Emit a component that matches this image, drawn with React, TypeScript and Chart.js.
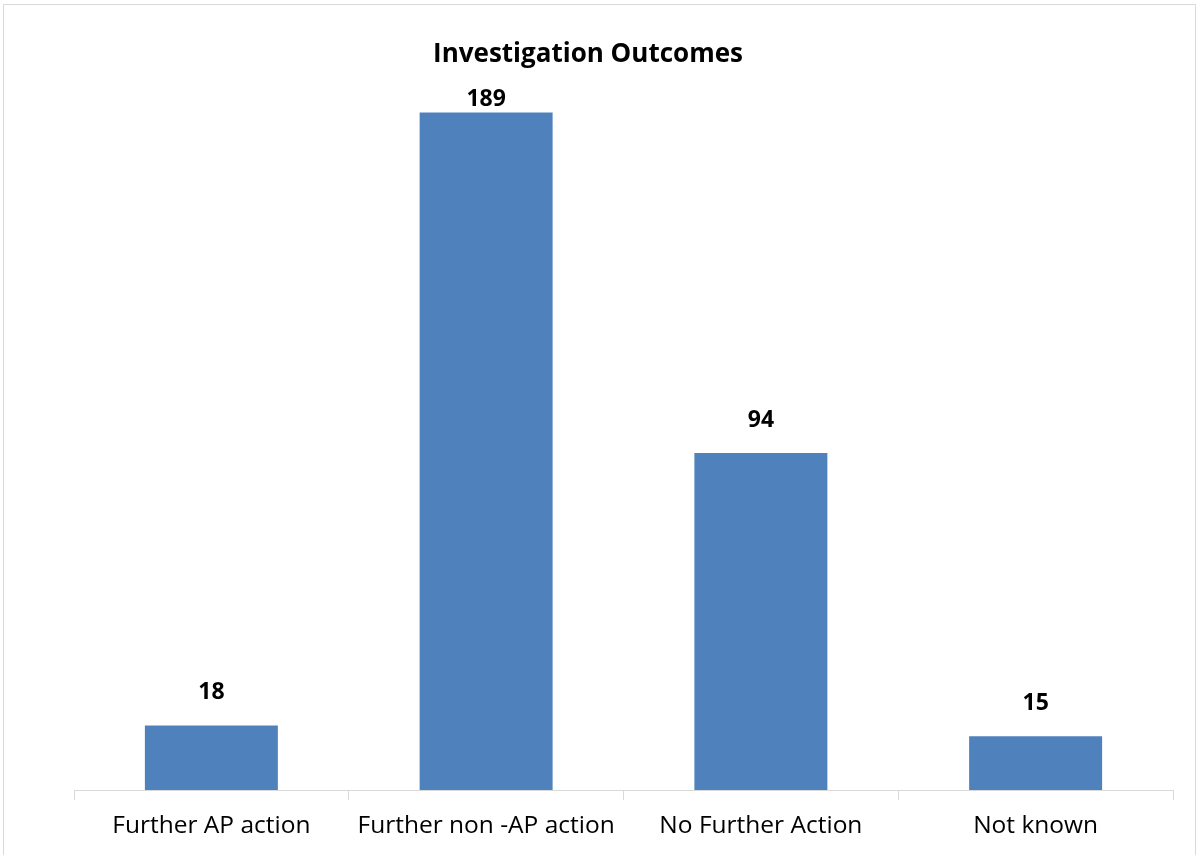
import React, { useEffect, useRef } from "react";
import { Chart, registerables } from "chart.js";

Chart.register(...registerables);

const categories = ["Further AP action", "Further non -AP action", "No Further Action", "Not known"];
const values = [18, 189, 94, 15];
const chartTitle = "Investigation Outcomes";

const FONT = "'Open Sans', 'Liberation Sans', sans-serif";

const frame = {
  id: "frame",
  beforeDraw(chart: any) {
    const ctx = chart.ctx;
    ctx.save();
    ctx.fillStyle = "#ffffff";
    ctx.fillRect(0, 0, chart.width, chart.height);
    ctx.strokeStyle = "#d9d9d9";
    ctx.lineWidth = 1;
    ctx.strokeRect(3.5, 4.5, 1192, 900);
    ctx.restore();
  },
  afterDraw(chart: any) {
    const ctx = chart.ctx;
    ctx.save();
    ctx.font = `bold 26px ${FONT}`;
    ctx.fillStyle = "#000000";
    ctx.textAlign = "center";
    ctx.textBaseline = "alphabetic";
    ctx.fillText(chartTitle, 588, 62);
    ctx.restore();
  },
};

const valueLabels = {
  id: "valueLabels",
  afterDatasetsDraw(chart: any) {
    const ctx = chart.ctx;
    const meta = chart.getDatasetMeta(0);
    const minY = chart.chartArea.top + 33;
    ctx.save();
    ctx.font = `bold 23px ${FONT}`;
    ctx.fillStyle = "#000000";
    ctx.textAlign = "center";
    ctx.textBaseline = "alphabetic";
    meta.data.forEach((bar: any, i: number) => {
      const y = Math.max(bar.y - 26, minY);
      ctx.fillText(String(chart.data.datasets[0].data[i]), bar.x, y);
    });
    ctx.restore();
  },
};

export default function App() {
  const ref = useRef<HTMLCanvasElement>(null);
  useEffect(() => {
    document.body.style.margin = "0";
    const chart = new Chart(ref.current!, {
      type: "bar",
      data: {
        labels: categories,
        datasets: [
          {
            data: values,
            backgroundColor: "#4F81BD",
            categoryPercentage: 1,
            barPercentage: 0.484,
          },
        ],
      },
      options: {
        animation: false,
        responsive: false,
        layout: { padding: { left: 74, right: 26, top: 73, bottom: 0 } },
        plugins: {
          legend: { display: false },
          tooltip: { enabled: false },
          title: { display: false },
        },
        scales: {
          y: { display: false, min: 0, max: 200 },
          x: {
            afterFit(scale: any) {
              scale.height = 65;
            },
            border: { color: "#d9d9d9" },
            grid: {
              offset: true,
              drawOnChartArea: false,
              tickLength: 10,
              color: "#d9d9d9",
            },
            ticks: {
              color: "#000000",
              padding: 11,
              maxRotation: 0,
              font: { family: FONT, size: 24.5 },
            },
          },
        },
      },
      plugins: [frame, valueLabels],
    });
    return () => chart.destroy();
  }, []);
  return (
    <div style={{ position: "absolute", left: 0, top: 0, width: 1199, height: 855, overflow: "hidden" }}>
      <canvas ref={ref} width={1199} height={855} style={{ width: 1199, height: 855, display: "block" }} />
    </div>
  );
}
